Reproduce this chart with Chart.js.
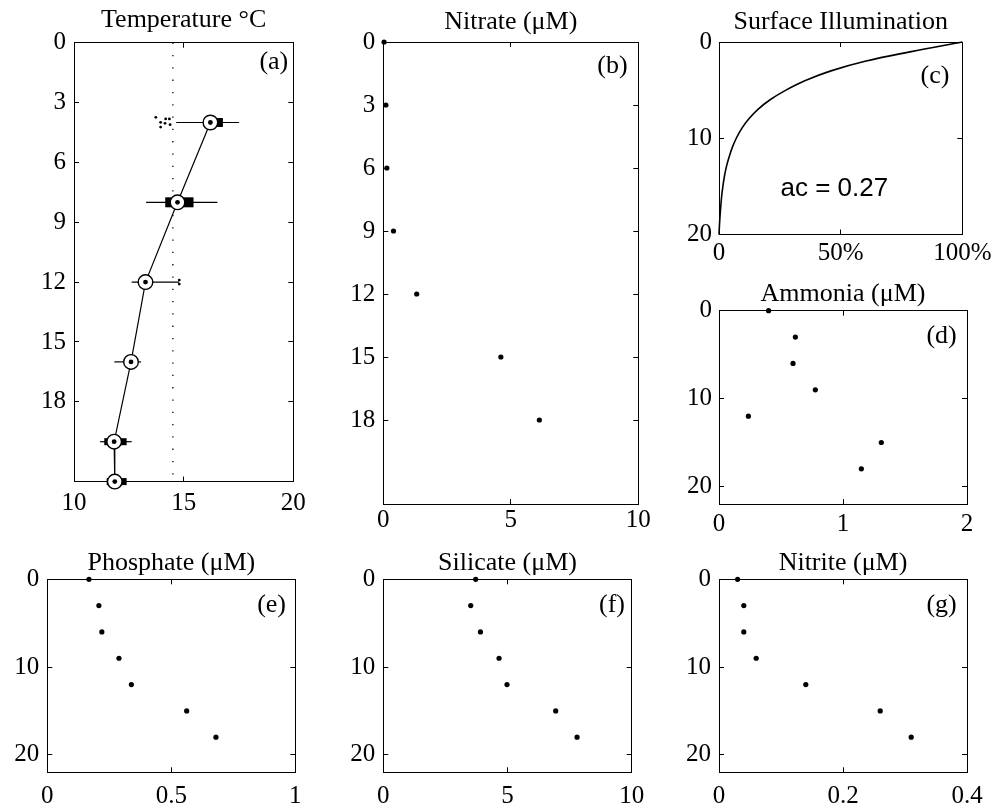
<!DOCTYPE html>
<html><head><meta charset="utf-8">
<script src="https://cdn.jsdelivr.net/npm/chart.js@4"></script>
<style>
html,body{margin:0;padding:0;background:#fff;}
body{width:1003px;height:809px;position:relative;overflow:hidden;}
canvas{position:absolute;}
</style>
</head><body>
<script>
// ---------- DATA ----------
const depths = [0, 3, 6, 9, 12, 15, 18];
const nitrate   = [0.03, 0.10, 0.14, 0.40, 1.31, 4.61, 6.12];
const ammonia   = [0.40, 0.616, 0.597, 0.777, 0.237, 1.309, 1.148];
const phosphate = [0.168, 0.208, 0.22, 0.289, 0.339, 0.562, 0.68];
const silicate  = [3.72, 3.52, 3.91, 4.66, 4.98, 6.94, 7.80];
const nitrite   = [0.030, 0.040, 0.040, 0.060, 0.140, 0.260, 0.310];

const tempDepths  = [4, 8, 12, 16, 20, 22];
const tempMean    = [16.22, 14.72, 13.26, 12.60, 11.83, 11.86];
const tempWhiskLo = [14.66, 13.29, 12.63, 11.84, 11.19, 11.49];
const tempWhiskHi = [17.53, 16.54, 14.79, 13.06, 12.63, 12.40];
const tempBoxLo   = [16.00, 14.16, 13.00, 12.40, 11.38, 11.49];
const tempBoxHi   = [16.79, 15.45, 13.50, 12.80, 12.40, 12.40];
const tempOutT    = [13.73, 13.95, 14.18, 14.35, 14.15, 14.38, 13.95, 14.80, 14.80];
const tempOutD    = [3.74, 3.99, 3.82, 3.82, 4.04, 4.11, 4.23, 11.9, 12.1];
const tempRef     = 14.51;

const lightPct   = [100, 79, 60, 46, 35.5, 27.5, 21, 16, 12.2, 9.3, 7.1, 5.4, 4.1, 3.0, 2.2, 1.6, 1.1, 0.75, 0.45, 0.2, 0];
const lightDepth = [0, 1, 2, 3, 4, 5, 6, 7, 8, 9, 10, 11, 12, 13, 14, 15, 16, 17, 18, 19, 20];

const depthTicks3  = [0, 3, 6, 9, 12, 15, 18];
const depthTicks10 = [0, 10, 20];
const tempTicks = [10, 15, 20];
const nitrateTicks = [0, 5, 10];
const lightTicks = [0, 50, 100];
const lightTickLabels = ['0', '50%', '100%'];
const ammoniaTicks = [0, 1, 2];
const phosphateTicks = [0, 0.5, 1];
const phosphateTickLabels = ['0', '0.5', '1'];
const silicateTicks = [0, 5, 10];
const nitriteTicks = [0, 0.2, 0.4];
const nitriteTickLabels = ['0', '0.2', '0.4'];

// ---------- STYLE ----------
const SERIF = "'Liberation Serif','Times New Roman',serif";
const SANS = "'Liberation Sans',Arial,sans-serif";
const TICK_SIZE = 25;
const TITLE_SIZE = 26;
const boxPx = [9, 10, 8, 8, 7, 7];

const panelText = {
  id: 'panelText',
  afterDraw(chart, args, opts) {
    const ctx = chart.ctx;
    (opts.items || []).forEach(it => {
      ctx.save();
      ctx.font = it.font;
      ctx.fillStyle = '#000';
      ctx.textAlign = it.align || 'right';
      ctx.textBaseline = 'middle';
      ctx.fillText(it.text, chart.scales.x.getPixelForValue(it.x), chart.scales.y.getPixelForValue(it.y));
      ctx.restore();
    });
  }
};

function panel(cfg) {
  const [L, T, R, B] = cfg.rect;
  const padL = 62, padR = 34, padT = 48, padB = 44;
  const cl = Math.round(L - padL), ct = Math.round(T - padT);
  const cw = Math.round(R + padR) - cl, ch = Math.round(B + padB) - ct;
  const wL = L - cl, wT = T - ct, wR = cw - (R - cl), wB = ch - (B - ct);
  const canvas = document.createElement('canvas');
  canvas.width = cw; canvas.height = ch;
  canvas.style.left = cl + 'px'; canvas.style.top = ct + 'px';
  canvas.style.width = cw + 'px'; canvas.style.height = ch + 'px';
  document.body.appendChild(canvas);

  const tickFont = {family: SERIF, size: TICK_SIZE};
  const xLabels = cfg.xLabels || cfg.xTicks.map(String);
  const yLabels = cfg.yTicks.map(String);
  const grid = {drawOnChartArea: false, drawTicks: true, tickLength: -5, color: '#000', lineWidth: 1};
  const border = {display: true, color: '#000', width: 1};
  const setX = s => { s.ticks = cfg.xTicks.map(v => ({value: v})); };
  const setY = s => { s.ticks = cfg.yTicks.map(v => ({value: v})); };
  const titlePadTop = cfg.titleMid - ct - 0.6 * TITLE_SIZE;

  new Chart(canvas, {
    type: 'scatter',
    data: {datasets: cfg.datasets},
    options: {
      responsive: false, animation: false, devicePixelRatio: 1,
      layout: {padding: 0},
      events: [],
      plugins: {legend: {display: false}, tooltip: {enabled: false}, title: {display: false},
                panelText: {items: cfg.texts}},
      scales: {
        x: {type: 'linear', position: 'bottom', min: cfg.xMin, max: cfg.xMax,
            afterBuildTicks: setX, afterFit: s => { s.height = wB; },
            ticks: {display: true, autoSkip: false, maxRotation: 0, font: tickFont, color: '#000',
                    padding: cfg.xLabOff + 5 - 0.6 * TICK_SIZE,
                    callback: (v, i) => xLabels[i]},
            grid: grid, border: border},
        x2: {type: 'linear', position: 'top', min: cfg.xMin, max: cfg.xMax,
             afterBuildTicks: setX, afterFit: s => { s.height = wT; },
             ticks: {display: false}, grid: grid, border: border,
             title: {display: true, text: cfg.title, color: '#000',
                     font: {family: SERIF, size: TITLE_SIZE},
                     padding: {top: titlePadTop, bottom: 0}}},
        y: {type: 'linear', position: 'left', reverse: true, min: 0, max: cfg.yMax,
            afterBuildTicks: setY, afterFit: s => { s.width = wL; },
            ticks: {display: true, autoSkip: false, font: tickFont, color: '#000',
                    padding: cfg.yGap + 5, callback: (v, i) => yLabels[i]},
            grid: grid, border: border},
        y2: {type: 'linear', position: 'right', reverse: true, min: 0, max: cfg.yMax,
             afterBuildTicks: setY, afterFit: s => { s.width = wR; },
             ticks: {display: false}, grid: grid, border: border}
      }
    },
    plugins: [panelText]
  });
}

function dots(xs, r) {
  return {data: xs.map((v, i) => ({x: v, y: depths[i]})), showLine: false,
          pointRadius: r || 2.6, pointBackgroundColor: '#000', pointBorderWidth: 0, clip: false};
}
function letter(t, x, y) { return {text: t, x: x, y: y, align: 'right', font: `${TITLE_SIZE}px ${SERIF}`}; }

// ---------- PANEL (a) ----------
const meanPts = tempDepths.map((d, i) => ({x: tempMean[i], y: d}));
const aSets = [];
aSets.push({data: meanPts, showLine: false, pointRadius: 2.4, pointBackgroundColor: '#000', pointBorderWidth: 0, clip: false, order: 0});
aSets.push({data: meanPts, showLine: true, borderColor: '#000', borderWidth: 1.2, tension: 0,
            pointRadius: 7.3, pointBackgroundColor: '#fff', pointBorderColor: '#000', pointBorderWidth: 1.4, clip: false, order: 1});
tempDepths.forEach((d, i) => {
  aSets.push({data: [{x: tempBoxLo[i], y: d}, {x: tempBoxHi[i], y: d}], showLine: true, borderColor: '#000',
              borderWidth: boxPx[i], borderCapStyle: 'butt', pointRadius: 0, clip: false, order: 2});
  aSets.push({data: [{x: tempWhiskLo[i], y: d}, {x: tempWhiskHi[i], y: d}], showLine: true, borderColor: '#000',
              borderWidth: 1.2, pointRadius: 0, clip: false, order: 3});
});
aSets.push({data: tempOutT.map((t, i) => ({x: t, y: tempOutD[i]})), showLine: false, pointRadius: 1.4,
            pointBackgroundColor: '#000', pointBorderWidth: 0, clip: false, order: 4});
aSets.push({data: [{x: tempRef, y: 0}, {x: tempRef, y: 22}], showLine: true, borderColor: '#000', borderWidth: 1.3,
            borderDash: [1.3, 11], pointRadius: 0, order: 5});

panel({rect: [74, 42.7, 293.3, 481.6], xMin: 10, xMax: 20, xTicks: tempTicks, yMax: 22, yTicks: depthTicks3,
       title: 'Temperature \u00B0C', titleMid: 20.5, xLabOff: 21.5, yGap: 8,
       datasets: aSets, texts: [letter('(a)', 19.77, 0.99)]});

// ---------- PANEL (b) ----------
panel({rect: [383.3, 42, 638.3, 504], xMin: 0, xMax: 10, xTicks: nitrateTicks, yMax: 22, yTicks: depthTicks3,
       title: 'Nitrate (\u03BCM)', titleMid: 22.5, xLabOff: 16.3, yGap: 8,
       datasets: [dots(nitrate)], texts: [letter('(b)', 9.58, 1.17)]});

// ---------- PANEL (c) ----------
panel({rect: [719, 42, 966, 234.5], xMin: 0, xMax: 100, xTicks: lightTicks, xLabels: lightTickLabels,
       yMax: 20, yTicks: depthTicks10, title: 'Surface Illumination', titleMid: 22, xLabOff: 18.5, yGap: 7,
       datasets: [{data: lightPct.map((p, i) => ({x: p, y: lightDepth[i]})), showLine: true, borderColor: '#000',
                   borderWidth: 1.6, pointRadius: 0, tension: 0.4, clip: false}],
       texts: [letter('(c)', 94.7, 3.51),
               {text: 'ac = 0.27', x: 47.4, y: 15.27, align: 'center', font: `26px ${SANS}`}]});

// ---------- PANEL (d) ----------
panel({rect: [719, 310.7, 967, 504], xMin: 0, xMax: 2, xTicks: ammoniaTicks, yMax: 22, yTicks: depthTicks10,
       title: 'Ammonia (\u03BCM)', titleMid: 294.5, xLabOff: 20, yGap: 7,
       datasets: [dots(ammonia)], texts: [letter('(d)', 1.917, 2.88)]});

// ---------- PANEL (e) ----------
panel({rect: [47.3, 579.3, 295.3, 772.3], xMin: 0, xMax: 1, xTicks: phosphateTicks, xLabels: phosphateTickLabels,
       yMax: 22, yTicks: depthTicks10, title: 'Phosphate (\u03BCM)', titleMid: 563.5, xLabOff: 23.7, yGap: 8,
       datasets: [dots(phosphate)], texts: [letter('(e)', 0.9625, 2.93)]});

// ---------- PANEL (f) ----------
panel({rect: [383.3, 579.3, 631.7, 772.3], xMin: 0, xMax: 10, xTicks: silicateTicks, yMax: 22, yTicks: depthTicks10,
       title: 'Silicate (\u03BCM)', titleMid: 563.5, xLabOff: 23.7, yGap: 8,
       datasets: [dots(silicate)], texts: [letter('(f)', 9.73, 2.93)]});

// ---------- PANEL (g) ----------
panel({rect: [719, 579.3, 967, 772.3], xMin: 0, xMax: 0.4, xTicks: nitriteTicks, xLabels: nitriteTickLabels,
       yMax: 22, yTicks: depthTicks10, title: 'Nitrite (\u03BCM)', titleMid: 563.5, xLabOff: 23.7, yGap: 8,
       datasets: [dots(nitrite)], texts: [letter('(g)', 0.3834, 2.93)]});
</script>
</body></html>
